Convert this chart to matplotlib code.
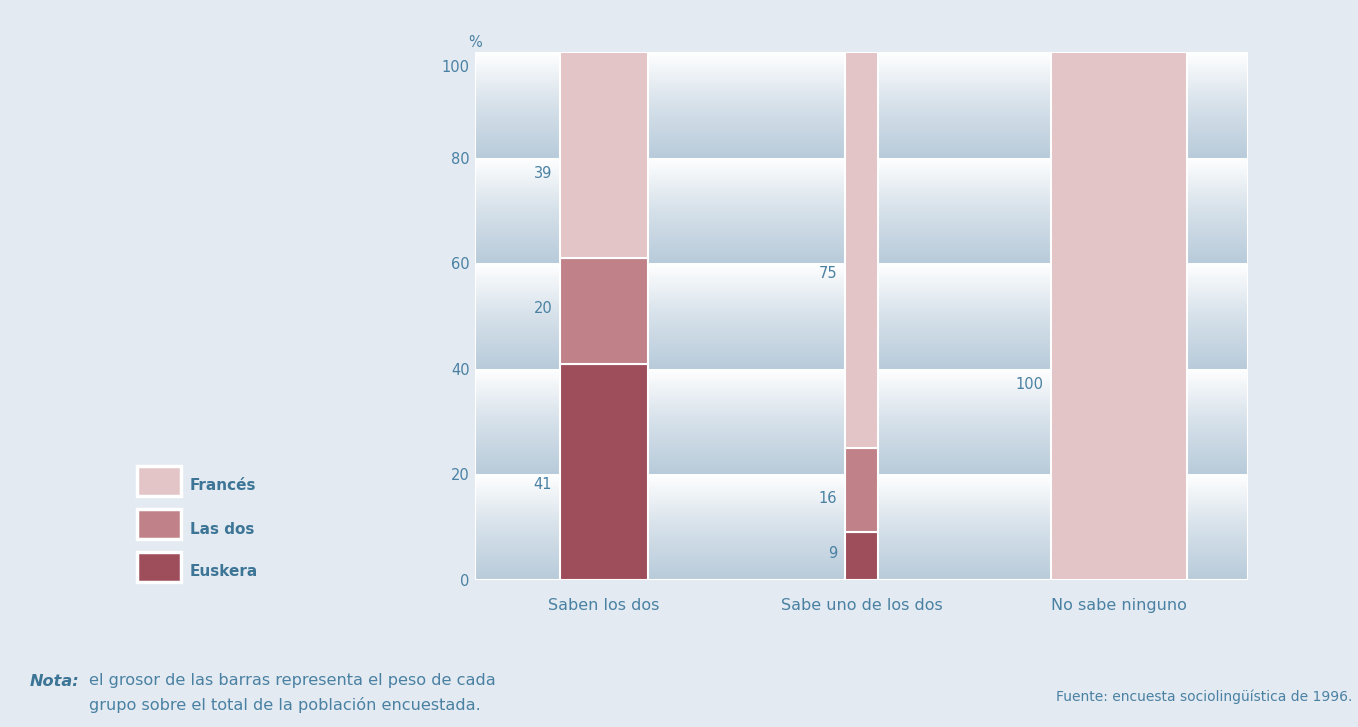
import numpy as np
import matplotlib.pyplot as plt
from matplotlib.colors import LinearSegmentedColormap
from matplotlib.patches import Rectangle
from matplotlib.transforms import ScaledTranslation

# data
groups = ["Saben los dos", "Sabe uno de los dos", "No sabe ninguno"]
weights = [34, 13, 53]          # bar thickness = share of the population
euskera = [41, 9, 0]
las_dos = [20, 16, 0]
frances = [39, 75, 100]
series_names = ["Euskera", "Las dos", "Francés"]
yticks = [0, 20, 40, 60, 80, 100]

# label placement (in % units) for the value labels
label_y = [[18, 51.5, 77], [5, 15.5, 58], [None, None, 37]]

bg = "#e3eaf1"
txt = "#4a81a3"
colors = ["#9e4d5b", "#c08288", "#e3c4c7"]

fig = plt.figure(figsize=(13.58, 7.27), dpi=100)
fig.patch.set_facecolor(bg)
ax = fig.add_axes([0.3498, 0.2022, 0.5690, 0.7263])
ax.set_facecolor(bg)

x = np.arange(len(groups))
ax.set_xlim(-0.5, len(groups) - 0.5)
ax.set_ylim(0, 100)

# gradient bands behind the bars
cmap = LinearSegmentedColormap.from_list("band", ["#b8cbda", "#d6e1ea", "#ffffff"])
grad = np.linspace(0, 1, 256).reshape(-1, 1)
for y0 in yticks[:-1]:
    ax.imshow(grad, cmap=cmap, origin="lower", aspect="auto",
              extent=(-0.5, len(groups) - 0.5, y0, y0 + 20), zorder=1)
ax.add_patch(Rectangle((-0.5, 0), len(groups), 100, fill=False,
                       edgecolor="white", lw=1.5, zorder=2))

widths = np.array(weights) / 100
stack = [euskera, las_dos, frances]
bottom = np.zeros(len(groups))
for vals, col, name in zip(stack, colors, series_names):
    ax.bar(x, vals, width=widths, bottom=bottom, color=col,
           edgecolor="white", linewidth=1.5, zorder=3, label=name)
    bottom += np.array(vals)

# value labels, left of each bar
for i in range(len(groups)):
    for j, vals in enumerate(stack):
        if vals[i] == 0:
            continue
        ax.text(x[i] - widths[i] / 2 - 0.03, label_y[i][j], str(vals[i]),
                ha="right", va="center", color=txt, fontsize=10.5, zorder=4)

ax.set_xticks(x)
ax.set_xticklabels(groups, fontsize=11.5, color=txt)
ax.set_yticks(yticks)
ax.set_yticklabels([str(t) for t in yticks], fontsize=10.5, color=txt)
ax.tick_params(length=0, pad=4)
ax.tick_params(axis="x", pad=13)
# the 100 label sits a little below the top edge
top_lbl = ax.get_yticklabels()[-1]
top_lbl.set_transform(top_lbl.get_transform() +
                      ScaledTranslation(0, -0.14, fig.dpi_scale_trans))
for s in ax.spines.values():
    s.set_visible(False)
ax.text(-0.5, 101.8, "%", ha="center", va="center", color=txt, fontsize=10.5)

# legend drawn by hand to match the boxed swatches
leg_names = ["Francés", "Las dos", "Euskera"]
leg_cols = [colors[2], colors[1], colors[0]]
for k, (nm, col) in enumerate(zip(leg_names, leg_cols)):
    yb = 1 - (496 + k * 43) / 727
    fig.patches.append(Rectangle((137 / 1358, yb), 44 / 1358, 30 / 727,
                                 transform=fig.transFigure, facecolor=col,
                                 edgecolor="white", lw=2.5))
    fig.text(190 / 1358, yb + 10 / 727, nm, ha="left", va="center",
             color="#3d7596", fontsize=11, fontweight="bold")

fig.text(30 / 1358, 1 - 681 / 727, "Nota:", fontsize=11.6, fontweight="bold",
         style="italic", color="#3d7596", va="center")
fig.text(89 / 1358, 1 - 681 / 727, "el grosor de las barras representa el peso de cada",
         fontsize=11.6, color=txt, va="center")
fig.text(89 / 1358, 1 - 705 / 727, "grupo sobre el total de la población encuestada.",
         fontsize=11.6, color=txt, va="center")
fig.text(1352 / 1358, 1 - 697 / 727, "Fuente: encuesta sociolingüística de 1996.",
         fontsize=10, color=txt, ha="right", va="center")

fig.savefig("out.png", dpi=100, facecolor=bg)
